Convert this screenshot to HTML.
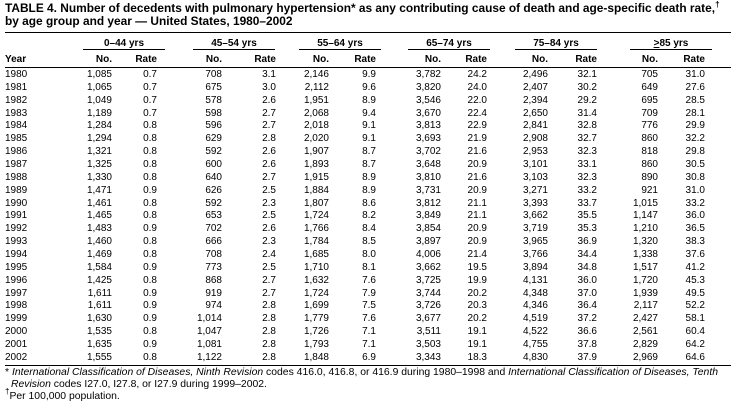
<!DOCTYPE html>
<html><head><meta charset="utf-8"><style>
body{margin:0;width:735px;height:411px;background:#fff;font-family:"Liberation Sans",Arial,sans-serif;color:#000;position:relative;overflow:hidden}
.t{position:absolute;left:5px;font-weight:bold;font-size:11.9px;line-height:13px;white-space:nowrap}
sup{line-height:0;vertical-align:0;position:relative;top:-5px;font-size:8px}
.hr{position:absolute;height:1px;background:#000}
.g{position:absolute;font-size:10px;font-weight:bold;text-align:center;top:38px}
.s{position:absolute;font-size:10px;font-weight:bold;top:54px;text-align:right}
table{position:absolute;left:5px;top:69px;border-collapse:collapse;table-layout:fixed;font-size:10px}
td{padding:0;height:12.86px;line-height:12.86px;text-align:right;white-space:nowrap}
td:first-child{text-align:left}
.f{position:absolute;left:5px;font-size:10.4px;line-height:12px;white-space:nowrap}
</style></head><body>
<div class="t" style="top:2px">TABLE 4. Number of decedents with pulmonary hypertension* as any contributing cause of death and age-specific death rate,<sup>†</sup></div>
<div class="t" style="top:15px">by age group and year — United States, 1980–2002</div>
<div class="hr" style="left:5px;width:726px;top:32px"></div>
<div class="g" style="left:83px;width:82px">0–44 yrs</div>
<div class="g" style="left:193px;width:82px">45–54 yrs</div>
<div class="g" style="left:299px;width:82px">55–64 yrs</div>
<div class="g" style="left:408px;width:82px">65–74 yrs</div>
<div class="g" style="left:515px;width:82px">75–84 yrs</div>
<div class="g" style="left:630px;width:82px"><u>&gt;</u>85 yrs</div>
<div class="hr" style="left:83px;width:82px;top:49px"></div>
<div class="hr" style="left:193px;width:82px;top:49px"></div>
<div class="hr" style="left:299px;width:82px;top:49px"></div>
<div class="hr" style="left:408px;width:82px;top:49px"></div>
<div class="hr" style="left:515px;width:82px;top:49px"></div>
<div class="hr" style="left:630px;width:82px;top:49px"></div>
<div class="s" style="left:5px;text-align:left">Year</div>
<div class="s" style="right:623px">No.</div><div class="s" style="right:578px">Rate</div>
<div class="s" style="right:513px">No.</div><div class="s" style="right:459px">Rate</div>
<div class="s" style="right:406px">No.</div><div class="s" style="right:359px">Rate</div>
<div class="s" style="right:294px">No.</div><div class="s" style="right:248px">Rate</div>
<div class="s" style="right:187px">No.</div><div class="s" style="right:138px">Rate</div>
<div class="s" style="right:77px">No.</div><div class="s" style="right:30px">Rate</div>
<div class="hr" style="left:5px;width:726px;top:67px"></div>
<table>
<colgroup><col style="width:75px"><col style="width:32px"><col style="width:45px"><col style="width:65px"><col style="width:54px"><col style="width:53px"><col style="width:47px"><col style="width:65px"><col style="width:46px"><col style="width:61px"><col style="width:49px"><col style="width:61px"><col style="width:47px"><col style="width:26px"></colgroup>
<tr><td>1980</td><td>1,085</td><td>0.7</td><td>708</td><td>3.1</td><td>2,146</td><td>9.9</td><td>3,782</td><td>24.2</td><td>2,496</td><td>32.1</td><td>705</td><td>31.0</td><td></td></tr>
<tr><td>1981</td><td>1,065</td><td>0.7</td><td>675</td><td>3.0</td><td>2,112</td><td>9.6</td><td>3,820</td><td>24.0</td><td>2,407</td><td>30.2</td><td>649</td><td>27.6</td><td></td></tr>
<tr><td>1982</td><td>1,049</td><td>0.7</td><td>578</td><td>2.6</td><td>1,951</td><td>8.9</td><td>3,546</td><td>22.0</td><td>2,394</td><td>29.2</td><td>695</td><td>28.5</td><td></td></tr>
<tr><td>1983</td><td>1,189</td><td>0.7</td><td>598</td><td>2.7</td><td>2,068</td><td>9.4</td><td>3,670</td><td>22.4</td><td>2,650</td><td>31.4</td><td>709</td><td>28.1</td><td></td></tr>
<tr><td>1984</td><td>1,284</td><td>0.8</td><td>596</td><td>2.7</td><td>2,018</td><td>9.1</td><td>3,813</td><td>22.9</td><td>2,841</td><td>32.8</td><td>776</td><td>29.9</td><td></td></tr>
<tr><td>1985</td><td>1,294</td><td>0.8</td><td>629</td><td>2.8</td><td>2,020</td><td>9.1</td><td>3,693</td><td>21.9</td><td>2,908</td><td>32.7</td><td>860</td><td>32.2</td><td></td></tr>
<tr><td>1986</td><td>1,321</td><td>0.8</td><td>592</td><td>2.6</td><td>1,907</td><td>8.7</td><td>3,702</td><td>21.6</td><td>2,953</td><td>32.3</td><td>818</td><td>29.8</td><td></td></tr>
<tr><td>1987</td><td>1,325</td><td>0.8</td><td>600</td><td>2.6</td><td>1,893</td><td>8.7</td><td>3,648</td><td>20.9</td><td>3,101</td><td>33.1</td><td>860</td><td>30.5</td><td></td></tr>
<tr><td>1988</td><td>1,330</td><td>0.8</td><td>640</td><td>2.7</td><td>1,915</td><td>8.9</td><td>3,810</td><td>21.6</td><td>3,103</td><td>32.3</td><td>890</td><td>30.8</td><td></td></tr>
<tr><td>1989</td><td>1,471</td><td>0.9</td><td>626</td><td>2.5</td><td>1,884</td><td>8.9</td><td>3,731</td><td>20.9</td><td>3,271</td><td>33.2</td><td>921</td><td>31.0</td><td></td></tr>
<tr><td>1990</td><td>1,461</td><td>0.8</td><td>592</td><td>2.3</td><td>1,807</td><td>8.6</td><td>3,812</td><td>21.1</td><td>3,393</td><td>33.7</td><td>1,015</td><td>33.2</td><td></td></tr>
<tr><td>1991</td><td>1,465</td><td>0.8</td><td>653</td><td>2.5</td><td>1,724</td><td>8.2</td><td>3,849</td><td>21.1</td><td>3,662</td><td>35.5</td><td>1,147</td><td>36.0</td><td></td></tr>
<tr><td>1992</td><td>1,483</td><td>0.9</td><td>702</td><td>2.6</td><td>1,766</td><td>8.4</td><td>3,854</td><td>20.9</td><td>3,719</td><td>35.3</td><td>1,210</td><td>36.5</td><td></td></tr>
<tr><td>1993</td><td>1,460</td><td>0.8</td><td>666</td><td>2.3</td><td>1,784</td><td>8.5</td><td>3,897</td><td>20.9</td><td>3,965</td><td>36.9</td><td>1,320</td><td>38.3</td><td></td></tr>
<tr><td>1994</td><td>1,469</td><td>0.8</td><td>708</td><td>2.4</td><td>1,685</td><td>8.0</td><td>4,006</td><td>21.4</td><td>3,766</td><td>34.4</td><td>1,338</td><td>37.6</td><td></td></tr>
<tr><td>1995</td><td>1,584</td><td>0.9</td><td>773</td><td>2.5</td><td>1,710</td><td>8.1</td><td>3,662</td><td>19.5</td><td>3,894</td><td>34.8</td><td>1,517</td><td>41.2</td><td></td></tr>
<tr><td>1996</td><td>1,425</td><td>0.8</td><td>868</td><td>2.7</td><td>1,632</td><td>7.6</td><td>3,725</td><td>19.9</td><td>4,131</td><td>36.0</td><td>1,720</td><td>45.3</td><td></td></tr>
<tr><td>1997</td><td>1,611</td><td>0.9</td><td>919</td><td>2.7</td><td>1,724</td><td>7.9</td><td>3,744</td><td>20.2</td><td>4,348</td><td>37.0</td><td>1,939</td><td>49.5</td><td></td></tr>
<tr><td>1998</td><td>1,611</td><td>0.9</td><td>974</td><td>2.8</td><td>1,699</td><td>7.5</td><td>3,726</td><td>20.3</td><td>4,346</td><td>36.4</td><td>2,117</td><td>52.2</td><td></td></tr>
<tr><td>1999</td><td>1,630</td><td>0.9</td><td>1,014</td><td>2.8</td><td>1,779</td><td>7.6</td><td>3,677</td><td>20.2</td><td>4,519</td><td>37.2</td><td>2,427</td><td>58.1</td><td></td></tr>
<tr><td>2000</td><td>1,535</td><td>0.8</td><td>1,047</td><td>2.8</td><td>1,726</td><td>7.1</td><td>3,511</td><td>19.1</td><td>4,522</td><td>36.6</td><td>2,561</td><td>60.4</td><td></td></tr>
<tr><td>2001</td><td>1,635</td><td>0.9</td><td>1,081</td><td>2.8</td><td>1,793</td><td>7.1</td><td>3,503</td><td>19.1</td><td>4,755</td><td>37.8</td><td>2,829</td><td>64.2</td><td></td></tr>
<tr><td>2002</td><td>1,555</td><td>0.8</td><td>1,122</td><td>2.8</td><td>1,848</td><td>6.9</td><td>3,343</td><td>18.3</td><td>4,830</td><td>37.9</td><td>2,969</td><td>64.6</td><td></td></tr>
</table>
<div class="hr" style="left:5px;width:726px;top:365px"></div>
<div class="f" style="top:367px">* <i>International Classification of Diseases, Ninth Revision</i> codes 416.0, 416.8, or 416.9 during 1980–1998 and <i>International Classification of Diseases, Tenth</i></div>
<div class="f" style="top:379px;left:11px"><i>Revision</i> codes I27.0, I27.8, or I27.9 during 1999–2002.</div>
<div class="f" style="top:391px"><sup>†</sup>Per 100,000 population.</div>
</body></html>
